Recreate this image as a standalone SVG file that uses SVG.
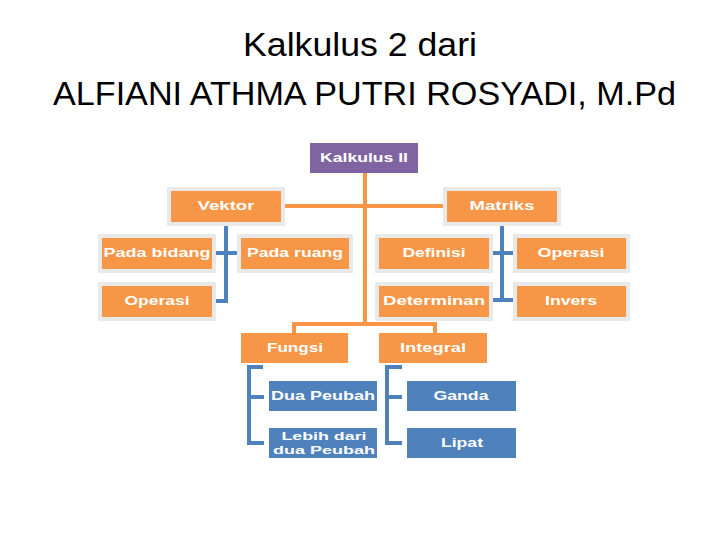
<svg xmlns="http://www.w3.org/2000/svg" width="720" height="540" viewBox="0 0 720 540">
<style>
.title{font-family:"Liberation Sans",Arial,sans-serif;font-size:33px;fill:#000;text-anchor:middle}
.frame{fill:#e9e9e9}
.o{fill:#F79646}
.p{fill:#8064A2}
.b{fill:#4F81BD}
.t{font-family:"Liberation Sans",Arial,sans-serif;font-size:13px;font-weight:bold;fill:#fff;text-anchor:middle}
.t2{font-size:11.5px}
.co{stroke:#F79646;stroke-width:4;fill:none}
.cb{stroke:#4F81BD;stroke-width:4;fill:none}
</style>
<rect width="720" height="540" fill="#fff"/>
<text class="title" x="360" y="56" textLength="234" lengthAdjust="spacingAndGlyphs">Kalkulus 2 dari</text>
<text class="title" x="364.5" y="105" textLength="623" lengthAdjust="spacingAndGlyphs">ALFIANI ATHMA PUTRI ROSYADI, M.Pd</text>

<g id="connectors">
<path class="co" d="M365 173 V324 M281 206 H447 M294 333 V324 H435 V333"/>
<path class="cb" d="M226 222 V301 H216 M216 253 H238"/>
<path class="cb" d="M502 222 V300 H492 M492 253 H513 M502 300 H513"/>
<path class="cb" d="M263 367 H249 V443 H264 M249 397 H264"/>
<path class="cb" d="M402 367 H387 V443 H402 M387 397 H402"/>
</g>

<g id="kalkulus2"><rect class="p" x="310" y="143" width="108" height="30"/><text class="t" x="364" y="162" textLength="88" lengthAdjust="spacingAndGlyphs">Kalkulus II</text></g>

<g id="vektor"><rect class="frame" x="167" y="187" width="118" height="39"/><rect class="o" x="171" y="191" width="110" height="31"/><text class="t" x="226" y="210" textLength="57" lengthAdjust="spacingAndGlyphs">Vektor</text></g>
<g id="matriks"><rect class="frame" x="443" y="187" width="118" height="39"/><rect class="o" x="447" y="191" width="110" height="31"/><text class="t" x="502" y="210" textLength="65" lengthAdjust="spacingAndGlyphs">Matriks</text></g>

<g id="pada-bidang"><rect class="frame" x="98" y="234" width="118" height="39"/><rect class="o" x="102" y="238" width="110" height="31"/><text class="t" x="157" y="257" textLength="107" lengthAdjust="spacingAndGlyphs">Pada bidang</text></g>
<g id="pada-ruang"><rect class="frame" x="237" y="234" width="116" height="39"/><rect class="o" x="241" y="238" width="108" height="31"/><text class="t" x="295" y="257" textLength="96" lengthAdjust="spacingAndGlyphs">Pada ruang</text></g>
<g id="operasi-v"><rect class="frame" x="98" y="282" width="118" height="39"/><rect class="o" x="102" y="286" width="110" height="31"/><text class="t" x="157" y="305" textLength="65" lengthAdjust="spacingAndGlyphs">Operasi</text></g>

<g id="definisi"><rect class="frame" x="375" y="234" width="118" height="39"/><rect class="o" x="379" y="238" width="110" height="31"/><text class="t" x="434" y="257" textLength="63" lengthAdjust="spacingAndGlyphs">Definisi</text></g>
<g id="operasi-m"><rect class="frame" x="513" y="234" width="117" height="39"/><rect class="o" x="517" y="238" width="109" height="31"/><text class="t" x="571" y="257" textLength="67" lengthAdjust="spacingAndGlyphs">Operasi</text></g>
<g id="determinan"><rect class="frame" x="375" y="282" width="118" height="39"/><rect class="o" x="379" y="286" width="110" height="31"/><text class="t" x="434" y="305" textLength="102" lengthAdjust="spacingAndGlyphs">Determinan</text></g>
<g id="invers"><rect class="frame" x="513" y="282" width="117" height="39"/><rect class="o" x="517" y="286" width="109" height="31"/><text class="t" x="571" y="305" textLength="52" lengthAdjust="spacingAndGlyphs">Invers</text></g>

<g id="fungsi"><rect class="o" x="241" y="333" width="107" height="30"/><text class="t" x="295" y="352" textLength="56" lengthAdjust="spacingAndGlyphs">Fungsi</text></g>
<g id="integral"><rect class="o" x="379" y="333" width="108" height="30"/><text class="t" x="433" y="352" textLength="66" lengthAdjust="spacingAndGlyphs">Integral</text></g>

<g id="dua-peubah"><rect class="b" x="269" y="381" width="108" height="30"/><text class="t" x="323" y="400" textLength="104" lengthAdjust="spacingAndGlyphs">Dua Peubah</text></g>
<g id="lebih-dari"><rect class="b" x="269" y="428" width="108" height="30"/><text class="t t2" x="324" y="440" textLength="85" lengthAdjust="spacingAndGlyphs">Lebih dari</text><text class="t t2" x="324" y="454" textLength="102" lengthAdjust="spacingAndGlyphs">dua Peubah</text></g>
<g id="ganda"><rect class="b" x="407" y="381" width="109" height="30"/><text class="t" x="461" y="400" textLength="55" lengthAdjust="spacingAndGlyphs">Ganda</text></g>
<g id="lipat"><rect class="b" x="407" y="428" width="109" height="30"/><text class="t" x="462" y="447" textLength="42" lengthAdjust="spacingAndGlyphs">Lipat</text></g>
</svg>
